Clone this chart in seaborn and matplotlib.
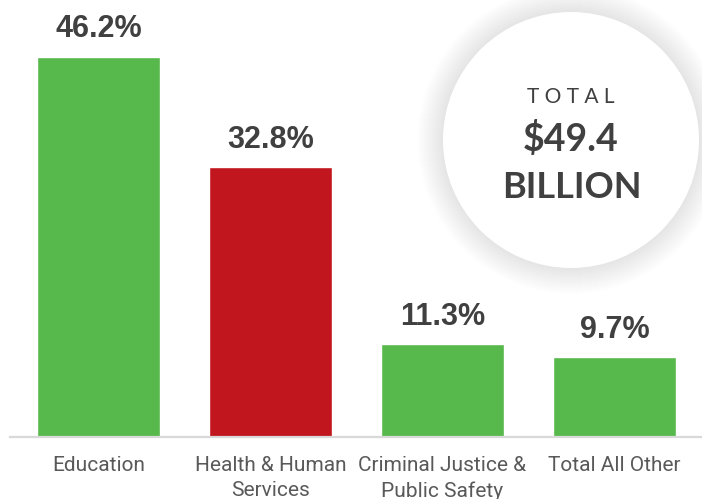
import matplotlib
matplotlib.use('Agg')
import matplotlib.pyplot as plt
import seaborn as sns
from matplotlib.patches import Ellipse

# 数据
categories = ['Education', 'Health & Human\nServices', 'Criminal Justice &\nPublic Safety', 'Total All Other']
shares = [46.2, 32.8, 11.3, 9.7]
bar_colors = ['#57B94B', '#C1161E', '#57B94B', '#57B94B']
total_text = ['TOTAL', '$49.4', 'BILLION']

sns.set_style('white')
plt.rcParams['font.family'] = ['Liberation Sans', 'DejaVu Sans']

W, H = 702, 499
fig = plt.figure(figsize=(W / 100, H / 100), dpi=100)
ax = fig.add_axes([10 / W, 62 / H, 692 / W, 437 / H])

sns.barplot(x=categories, y=shares, hue=categories, palette=bar_colors,
            legend=False, width=0.715, saturation=1, ax=ax)

ax.set_xlim(-0.515, 3.51)
ax.set_ylim(0, 53.1)
ax.set_yticks([])
ax.set_ylabel('')
for s in ['top', 'left', 'right']:
    ax.spines[s].set_visible(False)
ax.spines['bottom'].set_color('#D9D9D9')
ax.spines['bottom'].set_linewidth(1.6)
ax.tick_params(axis='x', length=0, pad=14)
for lab in ax.get_xticklabels():
    lab.set_fontfamily(['Roboto', 'DejaVu Sans'])
    lab.set_fontsize(15)
    lab.set_color('#595959')
    lab.set_linespacing(1.38)
    lab.set_verticalalignment('top')

# 数值标签
for i, v in enumerate(shares):
    ax.annotate(f'{v}%', (i, v), xytext=(0, 9), textcoords='offset points',
                ha='center', va='bottom', fontsize=22, fontweight='bold',
                color='#404040')

# 右上角圆圈（带柔和阴影）
cx, cy, r = 571 / W, 1 - 140 / H, 128
for k in range(26, 0, -1):
    rr = r + k * 1.0
    fig.patches.append(Ellipse((cx, cy), 2 * rr / W, 2 * rr / H, transform=fig.transFigure,
                               facecolor='#000000', alpha=0.005, edgecolor='none', zorder=1))
fig.patches.append(Ellipse((cx, cy), 2 * r / W, 2 * r / H, transform=fig.transFigure,
                           facecolor='white', edgecolor='none', zorder=2))

fig.text(cx, 1 - 97 / H, ' '.join(total_text[0]), ha='center', va='center',
         fontsize=15, color='#404040', family=['Lato', 'DejaVu Sans'], zorder=3)
fig.text(cx, 1 - 139 / H, total_text[1], ha='center', va='center',
         fontsize=27, fontweight='bold', color='#404040', family=['Lato', 'DejaVu Sans'], zorder=3)
fig.text(cx + 1 / W, 1 - 188 / H, total_text[2], ha='center', va='center',
         fontsize=26, fontweight='bold', color='#404040', family=['Lato', 'DejaVu Sans'], zorder=3)

fig.savefig('out.png', dpi=100)
